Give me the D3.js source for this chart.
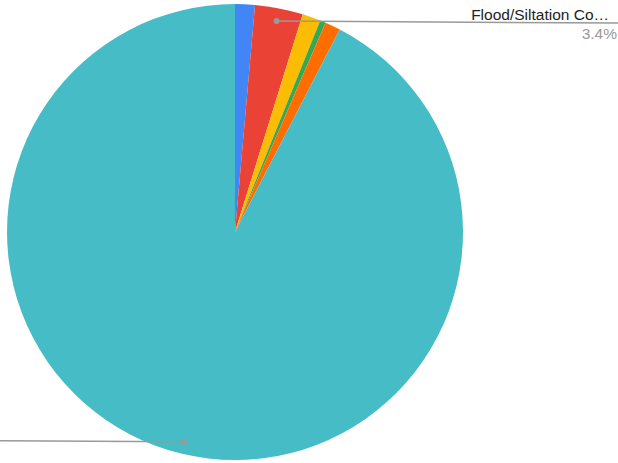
<!DOCTYPE html>
<html><head><meta charset="utf-8">
<script src="https://cdn.jsdelivr.net/npm/d3@7"></script>
<style>body{margin:0;background:#fff}svg{display:block}</style>
</head><body>
<svg id="chart" width="618" height="463"></svg>
<script>
const categories = ["Slice A", "Flood/Siltation Co…", "Slice C", "Slice D", "Slice E", "Slice F"];
const values = [1.4, 3.4, 1.3, 0.4, 1.1, 92.4];
const colors = ["#4285F4", "#EA4335", "#FBBC04", "#34A853", "#FF6D01", "#46BDC6"];
const pctLabels = ["", "3.4%", "", "", "", ""];

const svg = d3.select("#chart");
const cx = 235, cy = 232, r = 228;
const g = svg.append("g").attr("transform", `translate(${cx},${cy})`);
const pie = d3.pie().sort(null).value(d => d)(values);
const arc = d3.arc().innerRadius(0).outerRadius(r);
g.selectAll("path").data(pie).join("path")
  .attr("d", arc).attr("fill", (d, i) => colors[i]);

function pt(d, rad) {
  const a = (d.startAngle + d.endAngle) / 2;
  return [cx + rad * Math.sin(a), cy - rad * Math.cos(a)];
}
// red slice label
const p1 = pt(pie[1], 215);
svg.append("line").attr("x1", p1[0]).attr("y1", p1[1]).attr("x2", 618).attr("y2", p1[1] + 2)
  .attr("stroke", "#999").attr("stroke-width", 1.5);
svg.append("circle").attr("cx", p1[0]).attr("cy", p1[1]).attr("r", 3).attr("fill", "#999");
svg.append("text").attr("x", 609).attr("y", 19.5).attr("text-anchor", "end")
  .attr("font-family", "Liberation Sans, Arial, sans-serif").attr("font-size", 15.5)
  .attr("fill", "#222").text(categories[1]);
svg.append("text").attr("x", 617).attr("y", 38.5).attr("text-anchor", "end")
  .attr("font-family", "Liberation Sans, Arial, sans-serif").attr("font-size", 15.5)
  .attr("fill", "#999").text(pctLabels[1]);
// teal slice leader (label off-canvas)
const p5 = pt(pie[5], 216);
svg.append("line").attr("x1", p5[0]).attr("y1", p5[1]).attr("x2", 0).attr("y2", p5[1] - 1)
  .attr("stroke", "#999").attr("stroke-width", 1.5);
svg.append("circle").attr("cx", p5[0]).attr("cy", p5[1]).attr("r", 3).attr("fill", "#999");
</script>
</body></html>
